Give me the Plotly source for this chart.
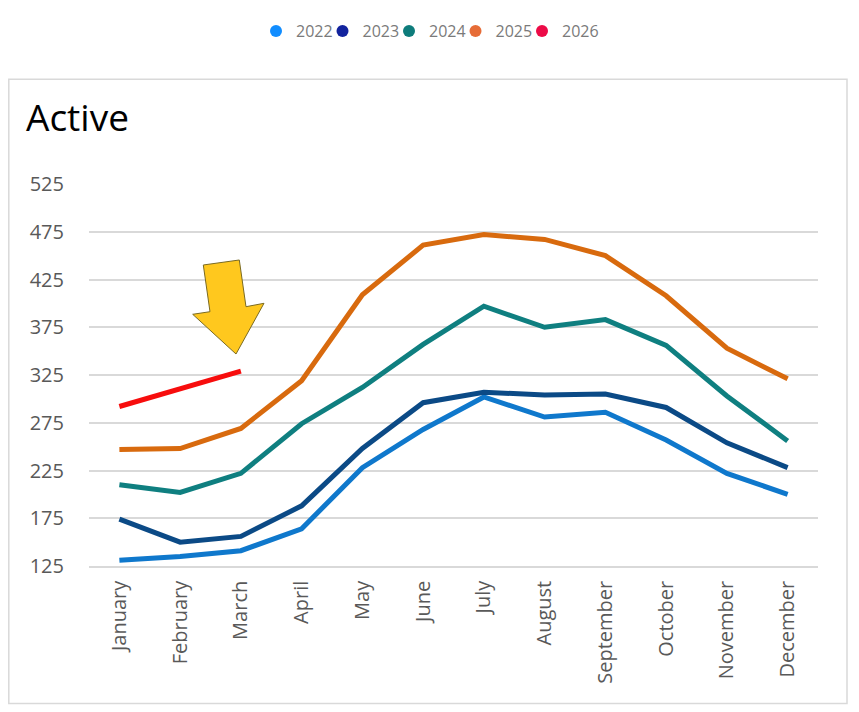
import plotly.graph_objects as go

months = ["January", "February", "March", "April", "May", "June", "July",
          "August", "September", "October", "November", "December"]
years = ["2022", "2023", "2024", "2025", "2026"]
y2022 = [131, 135, 141, 164, 228, 268, 302, 281, 286, 257, 222, 200]
y2023 = [174, 150, 156, 188, 248, 296, 307, 304, 305, 291, 254, 228]
y2024 = [210, 202, 222, 274, 312, 357, 397, 375, 383, 356, 303, 256]
y2025 = [247, 248, 269, 319, 409, 461, 472, 467, 450, 408, 353, 321]
y2026 = [292, 311, 329]
series = [y2022, y2023, y2024, y2025, y2026]
y_ticks = [125, 175, 225, 275, 325, 375, 425, 475, 525]

line_colors = ["#0F78CC", "#0B4A86", "#0F7F80", "#D86A0E", "#F70D0D"]
legend_colors = ["#118DFF", "#12239E", "#0E7C7B", "#E66C37", "#EC0B47"]

# page body has an 8px margin, so the figure is drawn 8px right and down
W, H = 851, 704
L, R, T, B = 81, 810, 176, 558


def px(xp):
    return (xp - L) / (R - L)


def py(yp):
    return (B - yp) / (B - T)


fig = go.Figure()
for name, vals, lc in zip(years, series, line_colors):
    fig.add_trace(go.Scatter(x=months[:len(vals)], y=vals, mode="lines", name=name,
                             line=dict(color=lc, width=5), showlegend=False))
for name, mc in zip(years, legend_colors):
    fig.add_trace(go.Scatter(x=[None], y=[None], mode="markers", name=name,
                             marker=dict(color=mc, size=15, symbol="circle")))
# spacer entry so the last legend label is not clipped
fig.add_trace(go.Scatter(x=[None], y=[None], mode="markers", name=" ",
                         marker=dict(color="rgba(0,0,0,0)", size=1),
                         hoverinfo="skip"))

# border box
fig.add_shape(type="rect", xref="paper", yref="paper",
              x0=px(0.8), x1=px(839), y0=py(695.5), y1=py(71.3),
              line=dict(color="#D9D9D9", width=1.5), layer="below")

# arrow
arrow_pts = [(195.3, 257), (231.3, 252), (238, 298.7), (256, 295.3),
             (228, 346), (184.7, 306.3), (202, 303.7)]
path = "M " + " L ".join(f"{px(a):.5f},{py(b):.5f}" for a, b in arrow_pts) + " Z"
fig.add_shape(type="path", xref="paper", yref="paper", path=path,
              fillcolor="#FFC81E", line=dict(color="#7A6A22", width=1))

fig.update_layout(
    width=W, height=H,
    margin=dict(l=L, r=W - R, t=T, b=H - B),
    paper_bgcolor="white", plot_bgcolor="white",
    font=dict(family="Open Sans", color="#595959"),
    title=dict(text="Active", xref="container", yref="container",
               x=18 / W, xanchor="left", y=1 - 110 / H, yanchor="middle",
               font=dict(family="Open Sans", size=37, color="#000000")),
    legend=dict(orientation="h", xref="container", yref="container",
                x=(268 - 20) / W, xanchor="left", y=1 - 23 / H, yanchor="middle",
                font=dict(family="Open Sans", size=16, color="#7A7A7A"),
                itemsizing="constant", entrywidth=21.5, entrywidthmode="pixels"),
    xaxis=dict(type="category", categoryarray=months, range=[-0.5, 11.5],
               tickangle=-90, tickfont=dict(size=20, color="#595959"),
               showgrid=False, showline=True, linecolor="#D9D9D9", linewidth=1.5,
               ticks="", ticklabelstandoff=5, zeroline=False),
    yaxis=dict(range=[125, 525], tickvals=y_ticks, showgrid=True,
               gridcolor="#D9D9D9", gridwidth=1.5, zeroline=False,
               tickfont=dict(size=20, color="#595959"), ticks="",
               ticklabelstandoff=24, showline=False),
)

fig.write_html("out.html")
